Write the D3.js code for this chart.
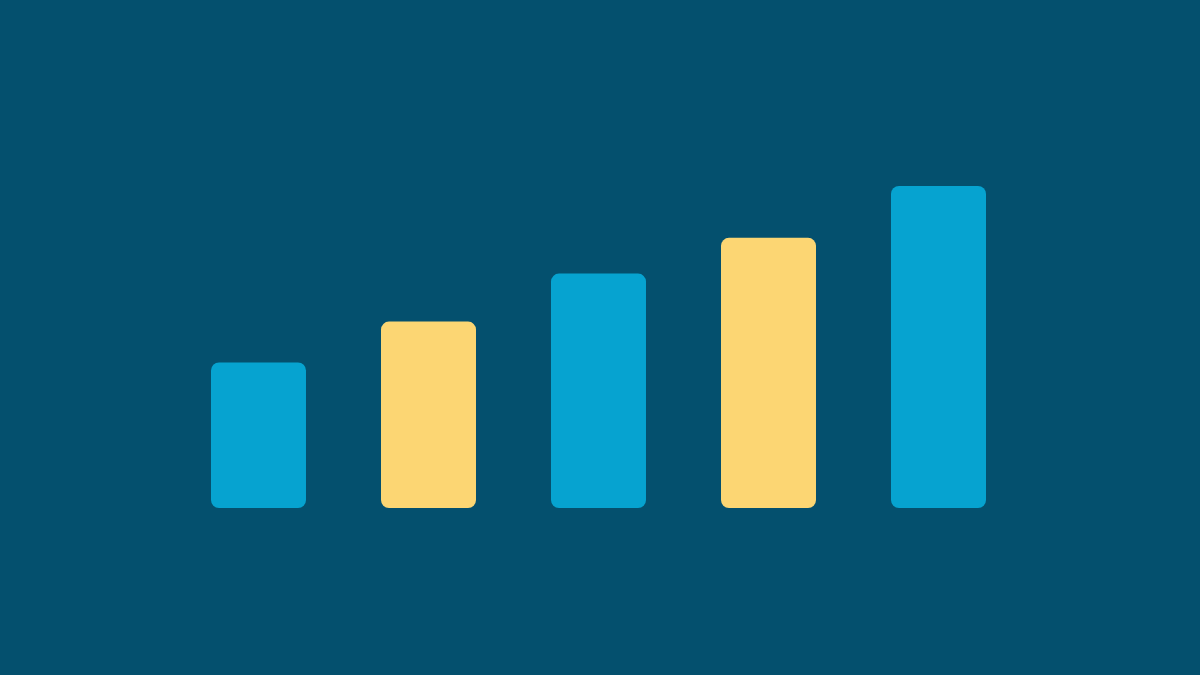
<!DOCTYPE html>
<html>
<head>
<meta charset="utf-8">
<script src="https://cdn.jsdelivr.net/npm/d3@7"></script>
<style>
  html, body { margin: 0; padding: 0; background: #04506e; }
  svg { display: block; }
</style>
</head>
<body>
<svg id="chart" width="1200" height="675"></svg>
<script>
const categories = ["A", "B", "C", "D", "E"];
const values = [45.2, 57.9, 72.8, 83.9, 100];
const colors = ["#06a3d0", "#fcd673", "#06a3d0", "#fcd673", "#06a3d0"];

const svg = d3.select("#chart");
svg.append("rect").attr("width", 1200).attr("height", 675).attr("fill", "#04506e");

const x = d3.scaleBand().domain(categories).range([211, 986]).paddingInner(0.4412).paddingOuter(0);
const y = d3.scaleLinear().domain([0, 100]).range([508, 186]);

svg.selectAll("rect.bar")
  .data(categories)
  .join("rect")
  .attr("class", "bar")
  .attr("x", d => x(d))
  .attr("width", x.bandwidth())
  .attr("y", (d, i) => y(values[i]))
  .attr("height", (d, i) => y(0) - y(values[i]))
  .attr("rx", 8).attr("ry", 8)
  .attr("fill", (d, i) => colors[i]);
</script>
</body>
</html>
